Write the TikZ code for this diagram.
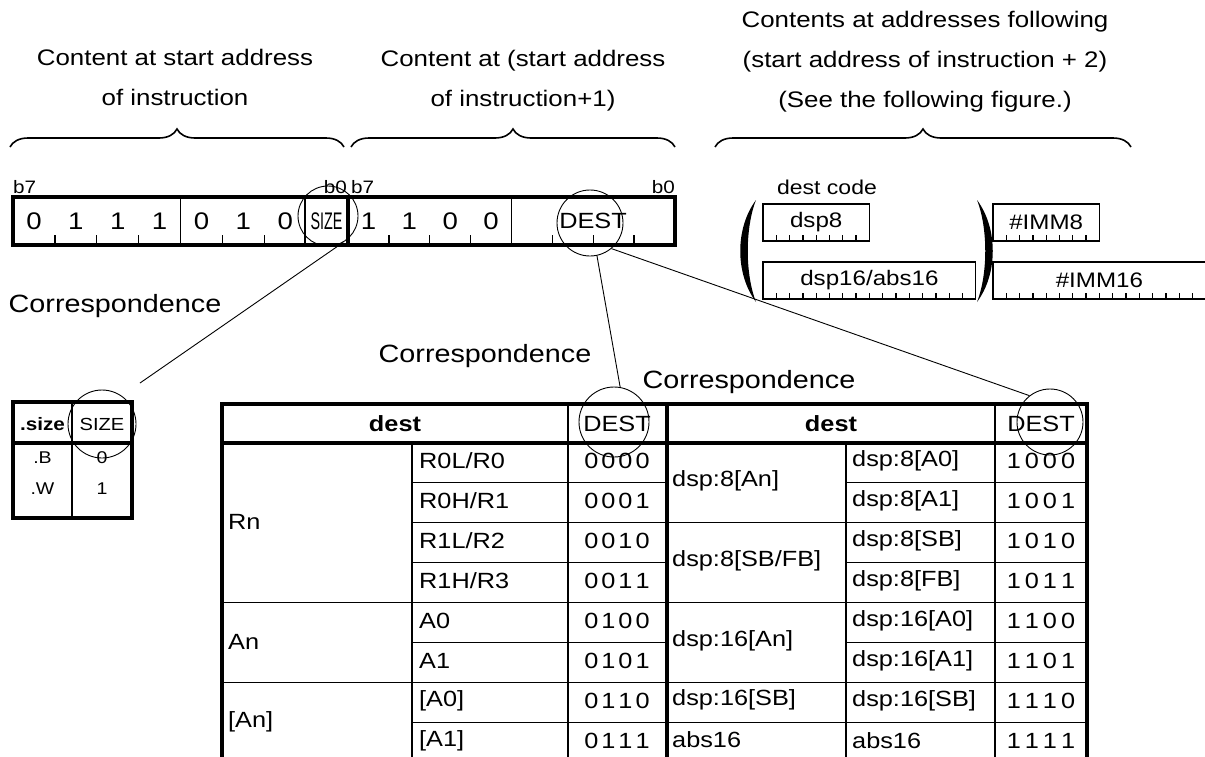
\documentclass[tikz,border=0pt]{standalone}
\usepackage{fontspec}
\setmainfont{Liberation Sans}[FakeStretch=1.15]
\usetikzlibrary{decorations.pathreplacing}
\newcommand\px[1]{\fontsize{#1}{#1}\selectfont}
\newcommand\lcode[4]{#1\kern3pt#2\kern3pt#3\kern3pt#4}
\newcommand\rcode[4]{#1\kern4pt#2\kern4pt#3\kern4pt#4}
\tikzset{
  heavy/.style={line width=4pt},
  light/.style={line width=1.3pt},
  hilite/.style={circle, draw, line width=0.9pt, inner sep=0pt, minimum size=#1},
  bit/.style={font=\px{24}, inner sep=0pt},
  tag/.style={font=\px{18}, inner sep=0pt},
  cell/.style={anchor=west, font=\px{22}, inner sep=0pt},
  codetxt/.style={font=\px{22}, inner sep=0pt},
  head/.style={font=\px{22}\bfseries, inner sep=0pt},
  caption/.style={font=\fontsize{22.5}{40}\selectfont, align=center, inner sep=0pt},
  corr/.style={font=\px{25}, inner sep=0pt},
  field/.style={font=\px{21}, inner sep=0pt},
  grp/.style={decorate, decoration={brace, amplitude=18pt}, line width=1.6pt},
}

\begin{document}
\begin{tikzpicture}[x=1pt, y=-1pt]
  \useasboundingbox (0,0) rectangle (1205,756);
  % headings and braces
  \node[caption] (capA) at (175,77) {Content at start address\\of instruction};
  \node[caption] (capB) at (523,81) {Content at (start address\\of instruction+1)};
  \node[caption] (capC) at (925,62) {Contents at addresses following\\(start address of instruction + 2)\\(See the following figure.)};
  \draw[grp] (10,147) -- (344,147);
  \draw[grp] (351,147) -- (675,147);
  \draw[grp] (715,147) -- (1131,147);

  % first byte
  \foreach \b [count=\i from 0] in {0,1,1,1,0,1,0}
    \node[bit] (hi\i) at ({13+41.875*(\i+0.5)},221) {\b};
  \node[bit] (sizebit) at (326.5,221) {\fontsize{24}{24}\selectfont\scalebox{0.52}[1]{SIZE}};
  \foreach \i in {1,2,3,5,6}
    \draw[light] ({13+41.875*\i},245) -- ++(0,-10);
  \draw[light] (180.5,197) -- (180.5,245);
  \draw[light] (305,197) -- (305,245);
  % second byte
  \foreach \b [count=\i from 0] in {1,1,0,0}
    \node[bit] (lo\i) at ({348+40.875*(\i+0.5)},221) {\b};
  \node[bit, font=\px{22}] (destbit) at (593,221) {DEST};
  \foreach \i in {1,2,3,5,6,7}
    \draw[light] ({348+40.875*\i},245) -- ++(0,-10);
  \draw[light] (511.5,197) -- (511.5,245);
  \draw[heavy] (13,197) rectangle (675,245);
  \draw[heavy] (348,197) -- (348,245);
  \node[tag, anchor=base west] (b7a) at (13,193) {b7};
  \node[tag, anchor=base east] (b0a) at (347,193) {b0};
  \node[tag, anchor=base west] (b7b) at (351,193) {b7};
  \node[tag, anchor=base east] (b0b) at (675,193) {b0};

  % following bytes
  \node[font=\px{20}, inner sep=0pt] (dcode) at (827,187) {dest code};
  \foreach \x/\y/\n/\nm/\txt in {763/204/8/fA/dsp8, 763/262/16/fB/{dsp16/abs16}, 993/204/8/fC/{\#IMM8}, 993/262/16/fD/{\#IMM16}} {
    \draw[light] (\x,\y) rectangle ++({13.3*\n},37);
    \pgfmathtruncatemacro\last{\n-1}
    \foreach \k in {1,...,\last}
      \draw[light] ({\x+13.3*\k},\y+37) -- ++(0,-6);
    \node[field] (\nm) at ({\x+6.65*\n},\y+18.5) {\txt};
  }
  \fill (756,200) .. controls (735,228) and (735,274) .. (756,302)
        .. controls (745,274) and (745,228) .. (756,200);
  \fill (977,200) .. controls (998,228) and (998,274) .. (977,302)
        .. controls (988,274) and (988,228) .. (977,200);

  % size table
  \draw[heavy] (13,402) rectangle (132,518);
  \draw[heavy] (13,443) -- (132,443);
  \draw[light] (72,402) -- (72,518);
  \node[font=\px{18}\bfseries, inner sep=0pt] (szhead) at (42.5,424) {.size};
  \node[font=\px{17.5}, inner sep=0pt] (szcode) at (102,424) {SIZE};
  \node[font=\px{17}, inner sep=0pt] (szB) at (42.5,458) {.B};
  \node[font=\px{17}, inner sep=0pt] (szB0) at (102,458) {0};
  \node[font=\px{17}, inner sep=0pt] (szW) at (42.5,489) {.W};
  \node[font=\px{17}, inner sep=0pt] (szW1) at (102,489) {1};

  % dest table
  \foreach \i in {1,...,7}
    \draw[light] (412,{442.5+40*\i}) -- (666,{442.5+40*\i});
  \foreach \i in {1,...,7}
    \draw[light] (846,{442.5+40*\i}) -- (1087,{442.5+40*\i});
  \draw[light] (222,602.5) -- (412,602.5);
  \draw[light] (222,682.5) -- (412,682.5);
  \foreach \y in {522.5,602.5,682.5,722.5}
    \draw[light] (666,\y) -- (846,\y);
  \draw[light] (412,443) -- (412,770);
  \draw[light] (568,404) -- (568,770);
  \draw[light] (846,443) -- (846,770);
  \draw[light] (995,404) -- (995,770);
  \draw[heavy] (222,404) rectangle (1087,770);
  \draw[heavy] (222,443) -- (1087,443);
  \draw[heavy] (666.5,404) -- (666.5,770);

  \node[head] (hdA) at (395,424) {dest};
  \node[codetxt] (hcA) at (617,424) {DEST};
  \node[head] (hdB) at (831,424) {dest};
  \node[codetxt] (hcB) at (1041,424) {DEST};

  \foreach \reg/\code [count=\i from 0] in {{R0L/R0}/{\lcode0000}, {R0H/R1}/{\lcode0001},
      {R1L/R2}/{\lcode0010}, {R1H/R3}/{\lcode0011}, A0/{\lcode0100}, A1/{\lcode0101},
      {[A0]}/{\lcode0110}, {[A1]}/{\lcode0111}} {
    \node[cell] (rl\i) at (419,{460.5+40*\i}) {\reg};
    \node[codetxt] (cl\i) at (617,{461+40*\i}) {\code};
  }
  \foreach \reg/\code [count=\i from 0] in {{dsp:8[A0]}/{\rcode1000}, {dsp:8[A1]}/{\rcode1001},
      {dsp:8[SB]}/{\rcode1010}, {dsp:8[FB]}/{\rcode1011}, {dsp:16[A0]}/{\rcode1100},
      {dsp:16[A1]}/{\rcode1101}, {dsp:16[SB]}/{\rcode1110}, abs16/{\rcode1111}} {
    \node[cell] (rr\i) at (852,{461+40*\i}) {\reg};
    \node[codetxt] (cr\i) at (1041,{461+40*\i}) {\code};
  }
  \node[cell] (gRn) at (228,522) {Rn};
  \node[cell] (gAn) at (228,642) {An};
  \node[cell] (gInd) at (228,722) {[An]};
  \node[cell] (gD8) at (672,481) {dsp:8[An]};
  \node[cell] (gD8S) at (672,561) {dsp:8[SB/FB]};
  \node[cell] (gD16) at (672,641) {dsp:16[An]};
  \node[cell] (gD16S) at (672,700) {dsp:16[SB]};
  \node[cell] (gAbs) at (672,740) {abs16};

  % correspondence marks
  \node[hilite=60pt] (sizeA) at (328,216) {};
  \node[hilite=68pt] (sizeB) at (102,424) {};
  \node[hilite=66pt] (destA) at (590,223) {};
  \node[hilite=70pt] (destB) at (614,422) {};
  \node[hilite=66pt] (destC) at (1050,422) {};
  \coordinate (linkA) at (140,383);
  \draw[line width=0.9pt] (sizeA.-60) -- (linkA);
  \draw[line width=0.9pt] (destA.-78) -- (destB.80);
  \draw[line width=0.9pt] (destA.-50) -- (destC.128);
  \node[corr] (corrA) at (115,306) {Correspondence};
  \node[corr] (corrB) at (485,356) {Correspondence};
  \node[corr] (corrC) at (749,382) {Correspondence};
\end{tikzpicture}
\end{document}
